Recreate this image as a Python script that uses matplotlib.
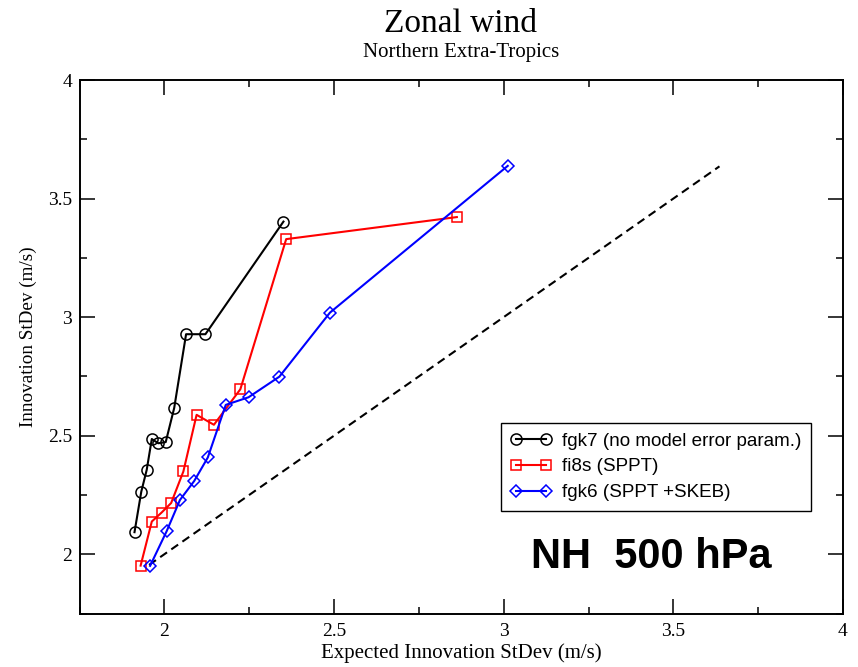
import matplotlib
matplotlib.use("Agg")
import matplotlib.pyplot as plt
from matplotlib.ticker import MultipleLocator

plt.rcParams.update({
    "font.family": "serif",
    "font.serif": ["Liberation Serif", "DejaVu Serif"],
    "font.size": 14,
})

# values
fgk7_x = [1.912, 1.932, 1.948, 1.963, 1.982, 2.004, 2.029, 2.064, 2.121, 2.351]
fgk7_y = [2.093, 2.264, 2.356, 2.486, 2.468, 2.473, 2.617, 2.928, 2.928, 3.403]

fi8s_x = [1.930, 1.963, 1.992, 2.020, 2.056, 2.095, 2.146, 2.224, 2.359, 2.862]
fi8s_y = [1.952, 2.138, 2.176, 2.216, 2.349, 2.588, 2.546, 2.696, 3.329, 3.422]

fgk6_x = [1.958, 2.007, 2.046, 2.088, 2.128, 2.181, 2.248, 2.339, 2.488, 3.012]
fgk6_y = [1.951, 2.098, 2.229, 2.309, 2.408, 2.630, 2.662, 2.749, 3.019, 3.638]

diag = [1.955, 3.636]

labels = ["fgk7 (no model error param.)", "fi8s (SPPT)", "fgk6 (SPPT +SKEB)"]

fig = plt.figure(figsize=(8.58, 6.67), dpi=100)
ax = fig.add_axes([0.0927, 0.0802, 0.8898, 0.7998])

ax.plot(diag, diag, color="black", linestyle=(0, (4, 2.5)), linewidth=1.5)

ax.plot(fgk7_x, fgk7_y, color="black", linewidth=1.5, marker="o",
        markersize=8, markerfacecolor="none", markeredgewidth=1.1,
        label=labels[0])
ax.plot(fi8s_x, fi8s_y, color="red", linewidth=1.5, marker="s",
        markersize=7, markerfacecolor="none", markeredgewidth=1.1,
        label=labels[1])
ax.plot(fgk6_x, fgk6_y, color="blue", linewidth=1.5, marker="D",
        markersize=6.3, markerfacecolor="none", markeredgewidth=1.1,
        label=labels[2])

ax.set_xlim(1.75, 4)
ax.set_ylim(1.75, 4)
ax.xaxis.set_minor_locator(MultipleLocator(0.25))
ax.yaxis.set_minor_locator(MultipleLocator(0.25))
ax.set_xticks([2, 2.5, 3, 3.5, 4])
ax.set_xticklabels(["2", "2.5", "3", "3.5", "4"])
ax.set_yticks([2, 2.5, 3, 3.5, 4])
ax.set_yticklabels(["2", "2.5", "3", "3.5", "4"])

ax.tick_params(which="both", direction="in", top=True, right=True, width=1.1)
ax.tick_params(which="major", length=10.8, labelsize=14)
ax.tick_params(axis="x", which="major", pad=6.5)
ax.tick_params(axis="y", which="major", pad=5.5)
ax.tick_params(which="minor", length=5.2)
for s in ax.spines.values():
    s.set_linewidth(1.4)

ax.set_xlabel("Expected Innovation StDev (m/s)", fontsize=15, labelpad=3)
ax.set_ylabel("Innovation StDev (m/s)", fontsize=13.8)
ax.yaxis.set_label_coords(-0.0557, 0.518)

leg = ax.legend(loc="upper right", bbox_to_anchor=(0.958, 0.357),
                borderaxespad=0, numpoints=2, fancybox=False,
                edgecolor="black", framealpha=1,
                prop={"family": "Liberation Sans", "size": 13.6},
                borderpad=0.5, labelspacing=0.45, handlelength=2.2,
                handletextpad=0.55)
leg.get_frame().set_linewidth(1.0)

ax.text(0.7485, 0.105, "NH  500 hPa", transform=ax.transAxes,
        ha="center", va="center", fontsize=30, fontweight="bold",
        family="Liberation Sans")

fig.text(0.537, 0.965, "Zonal wind", ha="center", va="center", fontsize=24)
fig.text(0.537, 0.922, "Northern Extra-Tropics", ha="center", va="center",
         fontsize=15)

fig.savefig("out.png", dpi=100)
